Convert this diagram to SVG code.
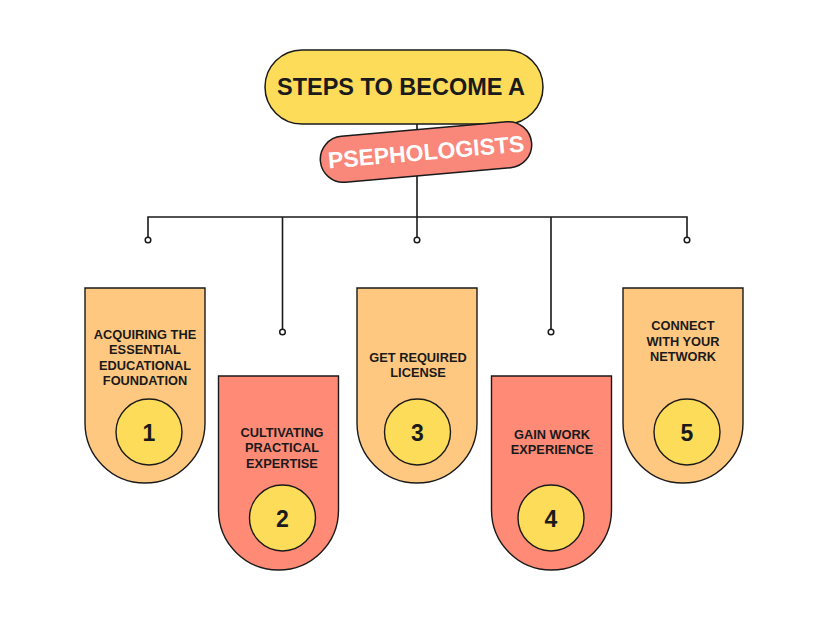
<svg xmlns="http://www.w3.org/2000/svg" width="828" height="621" viewBox="0 0 828 621">
<style>
.lbl{font-family:"Liberation Sans",Arial,sans-serif;font-weight:bold;font-size:12.8px;fill:#1a1a1a;text-anchor:middle}
.num{font-family:"Liberation Sans",Arial,sans-serif;font-size:23px;fill:#1a1a1a;text-anchor:middle;font-weight:bold}
.ln{fill:none;stroke:#1a1a1a;stroke-width:1.6}
.dot{fill:#ffffff;stroke:#1a1a1a;stroke-width:1.5}
.o{fill:#FFC880;stroke:#1a1a1a;stroke-width:1.4}
.s{fill:#FF8A76;stroke:#1a1a1a;stroke-width:1.4}
.c{fill:#FDDC5A;stroke:#1a1a1a;stroke-width:1.4}
</style>
<rect width="828" height="621" fill="#ffffff"/>
<g id="connectors">
<path class="ln" d="M417,122 V217 M148,240 V217 H687 V240 M282.5,217 V332 M417,217 V240 M551,217 V332"/>
<circle class="dot" cx="148" cy="240" r="2.8"/>
<circle class="dot" cx="282.5" cy="332" r="2.8"/>
<circle class="dot" cx="417" cy="240" r="2.8"/>
<circle class="dot" cx="551" cy="332" r="2.8"/>
<circle class="dot" cx="687" cy="240" r="2.8"/>
</g>
<g id="title">
<rect x="265" y="50" width="278" height="74" rx="37" fill="#FDDC5A" stroke="#1a1a1a" stroke-width="1.5"/>
<text x="401" y="95" font-family="Liberation Sans,Arial,sans-serif" font-weight="bold" font-size="23.5" fill="#1a1a1a" text-anchor="middle">STEPS TO BECOME A</text>
</g>
<g id="subtitle" transform="rotate(-5 426 152)">
<rect x="320" y="129" width="212" height="46" rx="23" fill="#F9877A" stroke="#1a1a1a" stroke-width="1.5"/>
<text x="426" y="160" font-family="Liberation Sans,Arial,sans-serif" font-weight="bold" font-size="23" fill="#ffffff" text-anchor="middle">PSEPHOLOGISTS</text>
</g>
<g id="step1">
<path class="o" d="M85,288 H205 V423 A60,60 0 0 1 85,423 Z"/>
<text class="lbl" x="145" y="338.5">ACQUIRING THE</text>
<text class="lbl" x="145" y="354">ESSENTIAL</text>
<text class="lbl" x="145" y="369.5">EDUCATIONAL</text>
<text class="lbl" x="145" y="385">FOUNDATION</text>
<circle class="c" cx="149" cy="432" r="33"/>
<text class="num" x="149" y="440.5">1</text>
</g>
<g id="step2">
<path class="s" d="M218.5,376 H338.5 V510 A60,60 0 0 1 218.5,510 Z"/>
<text class="lbl" x="282" y="436.5">CULTIVATING</text>
<text class="lbl" x="282" y="452">PRACTICAL</text>
<text class="lbl" x="282" y="467.5">EXPERTISE</text>
<circle class="c" cx="282.5" cy="518" r="33"/>
<text class="num" x="282.5" y="526.5">2</text>
</g>
<g id="step3">
<path class="o" d="M357,288 H477 V423 A60,60 0 0 1 357,423 Z"/>
<text class="lbl" x="418" y="361.5">GET REQUIRED</text>
<text class="lbl" x="418" y="377">LICENSE</text>
<circle class="c" cx="417.5" cy="432" r="33"/>
<text class="num" x="417.5" y="440.5">3</text>
</g>
<g id="step4">
<path class="s" d="M491.5,376 H611.5 V510 A60,60 0 0 1 491.5,510 Z"/>
<text class="lbl" x="552" y="438.5">GAIN WORK</text>
<text class="lbl" x="552" y="454">EXPERIENCE</text>
<circle class="c" cx="551" cy="518" r="33"/>
<text class="num" x="551" y="526.5">4</text>
</g>
<g id="step5">
<path class="o" d="M623,288 H743 V423 A60,60 0 0 1 623,423 Z"/>
<text class="lbl" x="683" y="330">CONNECT</text>
<text class="lbl" x="683" y="345.5">WITH YOUR</text>
<text class="lbl" x="683" y="361">NETWORK</text>
<circle class="c" cx="687" cy="432" r="33"/>
<text class="num" x="687" y="440.5">5</text>
</g>
</svg>
